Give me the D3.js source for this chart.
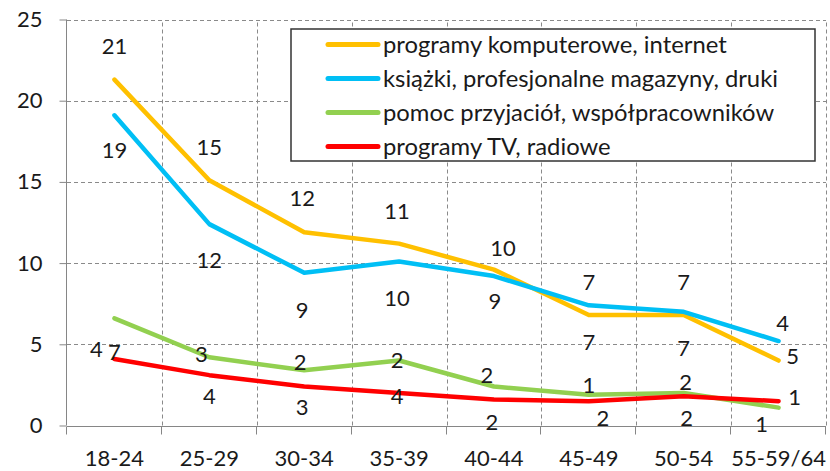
<!DOCTYPE html>
<html>
<head>
<meta charset="utf-8">
<script src="https://cdn.jsdelivr.net/npm/d3@7"></script>
<style>
  body { margin: 0; background: #fff; }
  svg text { font-family: Lato, "Open Sans", sans-serif; fill: #1a1a1a; }
</style>
</head>
<body>
<div id="chart"></div>
<script>
// age groups
const categories = ['18-24', '25-29', '30-34', '35-39', '40-44', '45-49', '50-54', '55-59/64'];

const seriesNames = [
	'programy komputerowe, internet',
	'książki, profesjonalne magazyny, druki',
	'pomoc przyjaciół, współpracowników',
	'programy TV, radiowe'
];

// line values
const computerValues = [21.3, 15.1, 11.9, 11.2, 9.6, 6.8, 6.8, 4.0];
const booksValues    = [19.1, 12.4, 9.4, 10.1, 9.2, 7.4, 7.0, 5.2];
const friendsValues  = [6.6, 4.2, 3.4, 4.0, 2.4, 1.9, 2.0, 1.1];
const tvValues       = [4.1, 3.1, 2.4, 2.0, 1.6, 1.5, 1.8, 1.5];

// data labels as printed on the chart
const computerLabels = ['21', '15', '12', '11', '10', '7', '7', '5'];
const booksLabels    = ['19', '12', '9', '10', '9', '7', '7', '4'];
const friendsLabels  = ['4', '3', '2', '2', '2', '1', '2', '1'];
const tvLabels       = ['7', '4', '3', '4', '2', '2', '2', '1'];

const yTicks = [0, 5, 10, 15, 20, 25];

const colors = ['#FFC000', '#00BFF5', '#92D050', '#FF0000'];

const series = [
	{ name: seriesNames[0], values: computerValues, labels: computerLabels, color: colors[0] },
	{ name: seriesNames[1], values: booksValues, labels: booksLabels, color: colors[1] },
	{ name: seriesNames[2], values: friendsValues, labels: friendsLabels, color: colors[2] },
	{ name: seriesNames[3], values: tvValues, labels: tvLabels, color: colors[3] }
];

// label placement relative to its point (dx, dy), per series
const labelOffsets = [
	[[0,-33],[0,-33],[-2,-34],[-2,-32],[9,-21],[0,-33],[0,-33],[14,-4]],
	[[0,35],[0,36],[-2,37],[-2,37],[1,25],[0,37],[0,36],[4,-18]],
	[[-18,31],[-8,-3],[-4,-8],[-2,0],[-7,-11],[0,-9],[2,-11],[-17,17]],
	[[0,-7],[0,21],[-2,21],[-2,3],[-2,23],[14,17],[3,22],[16,-4]]
];

const W = 830, H = 471;
const margin = { top: 19.5, right: 4, bottom: 45.5, left: 67 };

const svg = d3.select('#chart').append('svg')
	.attr('width', W)
	.attr('height', H);

const x = d3.scaleBand()
	.domain(categories)
	.range([margin.left, W - margin.right])
	.paddingInner(0).paddingOuter(0);

const y = d3.scaleLinear()
	.domain([0, 25])
	.range([H - margin.bottom, margin.top]);

const cx = d => x(d) + x.bandwidth() / 2;

//--------------------------------------------------------------------------
// grid
const grid = svg.append('g').attr('class', 'grid')
	.attr('stroke', '#8a8a8a')
	.attr('stroke-width', 1)
	.attr('stroke-dasharray', '4,3');

grid.selectAll('.hgrid')
	.data(yTicks.filter(t => t > 0))
	.enter().append('line')
	.attr('x1', margin.left).attr('x2', W - margin.right)
	.attr('y1', d => Math.round(y(d)) + 0.5)
	.attr('y2', d => Math.round(y(d)) + 0.5);

grid.selectAll('.vgrid')
	.data(categories)
	.enter().append('line')
	.attr('x1', d => Math.round(x(d) + x.bandwidth()) + 0.5)
	.attr('x2', d => Math.round(x(d) + x.bandwidth()) + 0.5)
	.attr('y1', y(0)).attr('y2', y(25));

//--------------------------------------------------------------------------
// axes
const yAxis = d3.axisLeft(y).tickValues(yTicks).tickSize(7).tickPadding(17);
svg.append('g')
	.attr('transform', 'translate(' + (margin.left - 0.5) + ',0)')
	.call(yAxis)
	.call(g => {
		g.selectAll('line, path').attr('stroke', '#868686');
		g.select('.domain').attr('d', 'M0,' + y(25) + 'V' + y(0));
		g.selectAll('text').attr('font-size', 22).attr('font-family', null);
	});

const xAxisG = svg.append('g')
	.attr('transform', 'translate(0,' + (Math.round(y(0)) + 0.5) + ')');
xAxisG.append('line')
	.attr('x1', margin.left).attr('x2', W - margin.right)
	.attr('stroke', '#868686');
xAxisG.selectAll('.xtick')
	.data([categories[0]].concat(categories))
	.enter().append('line')
	.attr('x1', (d, i) => Math.round(i === 0 ? x(d) : x(d) + x.bandwidth()) - 0.5)
	.attr('x2', (d, i) => Math.round(i === 0 ? x(d) : x(d) + x.bandwidth()) - 0.5)
	.attr('y1', 0).attr('y2', 8)
	.attr('stroke', '#868686');
xAxisG.selectAll('.xlabel')
	.data(categories)
	.enter().append('text')
	.attr('x', d => cx(d))
	.attr('y', 32)
	.attr('dy', '0.35em')
	.attr('text-anchor', 'middle')
	.attr('font-size', 22)
	.text(d => d);

//--------------------------------------------------------------------------
// lines
const line = d3.line()
	.x((d, i) => cx(categories[i]))
	.y(d => y(d));

svg.selectAll('.series-line')
	.data(series)
	.enter().append('path')
	.attr('class', 'series-line')
	.attr('d', d => line(d.values))
	.attr('fill', 'none')
	.attr('stroke', d => d.color)
	.attr('stroke-width', 4.5)
	.attr('stroke-linecap', 'round')
	.attr('stroke-linejoin', 'round');

// data labels
series.forEach(function(s, si) {
	svg.selectAll('.lbl-' + si)
		.data(s.labels)
		.enter().append('text')
		.attr('x', (d, i) => cx(categories[i]) + labelOffsets[si][i][0])
		.attr('y', (d, i) => y(s.values[i]) + labelOffsets[si][i][1])
		.attr('dy', '0.35em')
		.attr('text-anchor', 'middle')
		.attr('font-size', 22)
		.text(d => d);
});

//--------------------------------------------------------------------------
// legend
const legend = svg.append('g').attr('transform', 'translate(291,29)');
legend.append('rect')
	.attr('width', 524).attr('height', 132)
	.attr('fill', '#fff')
	.attr('stroke', '#333')
	.attr('stroke-width', 1.5);

const items = legend.selectAll('.legend-item')
	.data(series)
	.enter().append('g')
	.attr('transform', (d, i) => 'translate(0,' + (15.5 + i * 34) + ')');
items.append('line')
	.attr('x1', 37).attr('x2', 87)
	.attr('stroke', d => d.color)
	.attr('stroke-width', 5)
	.attr('stroke-linecap', 'round');
items.append('text')
	.attr('x', 92)
	.attr('dy', '0.35em')
	.attr('font-size', 23.8)
	.text(d => d.name);
</script>
</body>
</html>
